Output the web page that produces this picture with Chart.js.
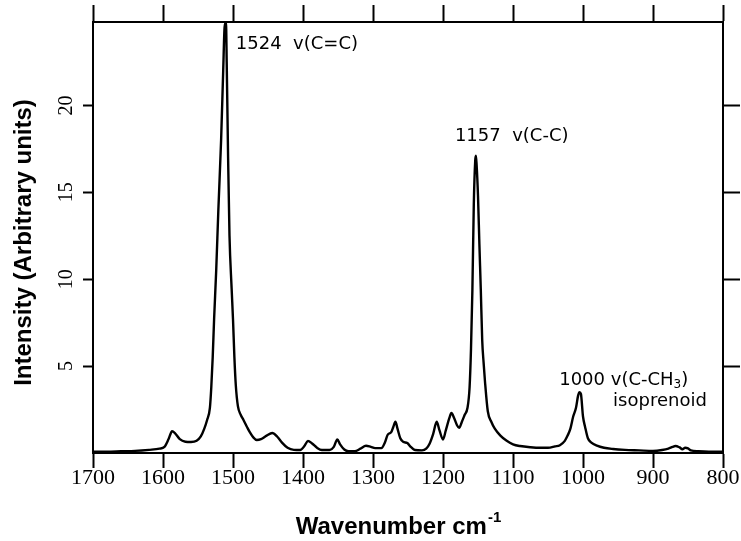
<!DOCTYPE html>
<html>
<head>
<meta charset="utf-8">
<script src="https://cdn.jsdelivr.net/npm/chart.js@4.4.1/dist/chart.umd.min.js"></script>
<style>
  html, body { margin: 0; padding: 0; background: #fff; }
  #wrap { width: 741px; height: 541px; }
</style>
</head>
<body>
<div id="wrap"><canvas id="myChart" width="741" height="541"></canvas></div>
<script>
// spectrum (wavenumber cm-1 / intensity)
const wavenumbers = [
  1700, 1680, 1660, 1640, 1620, 1605, 1598, 1592, 1587, 1583,
  1576, 1568, 1560, 1552, 1546, 1541, 1537, 1533, 1531, 1529,
  1527, 1524, 1521, 1517, 1514, 1512, 1510, 1509, 1507, 1505,
  1502, 1500, 1498, 1496, 1493, 1489, 1485, 1480, 1476, 1471,
  1466, 1460, 1452, 1444, 1437, 1430, 1422, 1413, 1404, 1398,
  1393, 1387, 1380, 1373, 1362, 1356, 1351, 1347, 1341, 1335,
  1326, 1318, 1310, 1303, 1297, 1288, 1283, 1279, 1274, 1271,
  1268, 1265, 1261, 1257, 1251, 1246, 1240, 1230, 1224, 1219,
  1214, 1209, 1205, 1200, 1196, 1191, 1188, 1184, 1180, 1177,
  1173, 1169, 1165, 1162, 1160, 1158, 1156, 1154, 1153, 1152,
  1150, 1148, 1146, 1144, 1142, 1140, 1136, 1131, 1126, 1118,
  1109, 1100, 1090, 1075, 1061, 1050, 1040, 1033, 1026, 1022,
  1018, 1014, 1010, 1007, 1005, 1003, 1000, 997, 993, 988,
  980, 970, 957, 940, 920, 900, 887, 878, 872, 868,
  862, 858, 854, 850, 846, 835, 820, 800
];
const intensities = [
  0.08, 0.08, 0.1, 0.12, 0.18, 0.25, 0.35, 0.8, 1.25, 1.15,
  0.8, 0.65, 0.63, 0.7, 0.95, 1.4, 1.9, 2.6, 3.8, 5.5,
  7.7, 10.5, 13.9, 18, 22, 24.5, 24.8, 22.5, 17, 12.5,
  9.5, 7.7, 5.5, 3.9, 2.7, 2.2, 1.9, 1.5, 1.2, 0.9,
  0.75, 0.8, 1.0, 1.15, 0.95, 0.6, 0.3, 0.18, 0.17, 0.4,
  0.7, 0.55, 0.3, 0.17, 0.17, 0.35, 0.78, 0.5, 0.2, 0.1,
  0.1, 0.25, 0.42, 0.35, 0.28, 0.28, 0.6, 1.05, 1.2, 1.5,
  1.8, 1.4, 0.85, 0.65, 0.57, 0.35, 0.17, 0.15, 0.25, 0.55,
  1.1, 1.8, 1.3, 0.78, 1.3, 2.0, 2.3, 2.0, 1.6, 1.45,
  1.8, 2.2, 2.6, 3.8, 6, 9.4, 14.3, 16.8, 17.1, 16.6,
  14.8, 12, 9.4, 6.5, 5.2, 4.1, 2.4, 1.8, 1.4, 1.0,
  0.7, 0.5, 0.4, 0.33, 0.3, 0.3, 0.38, 0.45, 0.7, 1.0,
  1.4, 2.1, 2.6, 3.3, 3.5, 3.4, 2.1, 1.5, 0.85, 0.6,
  0.42, 0.3, 0.23, 0.18, 0.15, 0.12, 0.17, 0.25, 0.35, 0.4,
  0.32, 0.22, 0.3, 0.27, 0.15, 0.1, 0.08, 0.08
];

const xTicks = [1700, 1600, 1500, 1400, 1300, 1200, 1100, 1000, 900, 800];
const yTicks = [5, 10, 15, 20];

// peak annotations: text pieces (0 = normal, 1 = subscript) and where they sit
const peakLabels = [
  { wn: 1496, y: 23.5, parts: [["1524  v(C=C)", 0]] },
  { wn: 1183, y: 18.2, parts: [["1157  v(C-C)", 0]] },
  { wn: 1034, y: 4.2, parts: [["1000 v(C-CH", 0], ["3", 1], [")", 0]] },
  { wn: 957, y: 3.0, parts: [["isoprenoid", 0]] }
];

const black = "#000";

// extra text: rotated y tick labels, axis titles, peak labels
const textPlugin = {
  id: "textPlugin",
  afterDraw(chart) {
    const c = chart.ctx;
    const xs = chart.scales.x;
    const ys = chart.scales.y;
    const area = chart.chartArea;
    c.save();
    c.fillStyle = black;

    // y tick labels, rotated
    c.font = "20px 'Liberation Serif'";
    c.textAlign = "center";
    c.textBaseline = "middle";
    yTicks.forEach((v) => {
      c.save();
      c.translate(67, ys.getPixelForValue(v));
      c.rotate(-Math.PI / 2);
      c.fillText(String(v), 0, 0);
      c.restore();
    });

    // y title
    c.save();
    c.translate(24, (area.top + area.bottom) / 2 + 5);
    c.rotate(-Math.PI / 2);
    c.font = "bold 24px 'Liberation Sans'";
    c.fillText("Intensity (Arbitrary units)", 0, 0);
    c.restore();

    // x title with superscript
    c.textAlign = "left";
    c.textBaseline = "alphabetic";
    c.font = "bold 24px 'Liberation Sans'";
    const main = "Wavenumber cm";
    const w1 = c.measureText(main).width;
    c.font = "bold 15px 'Liberation Sans'";
    const w2 = c.measureText("-1").width;
    let tx = (area.left + area.right) / 2 - 10 - (w1 + w2) / 2;
    c.font = "bold 24px 'Liberation Sans'";
    c.fillText(main, tx, 534);
    c.font = "bold 15px 'Liberation Sans'";
    c.fillText("-1", tx + w1 + 1, 522);

    // peak labels
    c.textBaseline = "middle";
    peakLabels.forEach((lab) => {
      let px = xs.getPixelForValue(lab.wn);
      const py = ys.getPixelForValue(lab.y);
      lab.parts.forEach(([t, sub]) => {
        c.font = sub ? "12px 'DejaVu Sans'" : "18px 'DejaVu Sans'";
        c.fillText(t, px, py + (sub ? 5 : 0));
        px += c.measureText(t).width;
      });
    });
    c.restore();
  }
};

const ctx = document.getElementById("myChart");

const axisGrid = (len) => ({
  display: true,
  drawOnChartArea: false,
  drawTicks: true,
  tickLength: len,
  tickWidth: 2,
  tickColor: black
});
const axisBorder = { display: true, color: black, width: 2 };

new Chart(ctx, {
  type: "line",
  data: {
    datasets: [
      {
        data: wavenumbers.map((w, i) => ({ x: w, y: intensities[i] })),
        borderColor: black,
        borderWidth: 2.4,
        pointRadius: 0,
        cubicInterpolationMode: "monotone",
        fill: false
      }
    ]
  },
  options: {
    responsive: false,
    animation: false,
    devicePixelRatio: 1,
    layout: { padding: 0 },
    plugins: {
      legend: { display: false },
      tooltip: { enabled: false }
    },
    scales: {
      x: {
        type: "linear",
        position: "bottom",
        reverse: true,
        min: 800,
        max: 1700,
        afterBuildTicks: (s) => { s.ticks = xTicks.map((v) => ({ value: v })); },
        ticks: {
          color: black,
          font: { family: "'Liberation Serif'", size: 22 },
          padding: -3,
          maxRotation: 0,
          autoSkip: false,
          callback: (v) => String(v)
        },
        grid: axisGrid(15),
        border: axisBorder,
        afterFit: (s) => { s.height = 88; }
      },
      xTop: {
        type: "linear",
        position: "top",
        reverse: true,
        min: 800,
        max: 1700,
        afterBuildTicks: (s) => { s.ticks = xTicks.map((v) => ({ value: v })); },
        ticks: { display: false },
        grid: axisGrid(17),
        border: axisBorder,
        afterFit: (s) => { s.height = 22; }
      },
      y: {
        type: "linear",
        position: "left",
        min: 0,
        max: 24.8,
        afterBuildTicks: (s) => { s.ticks = yTicks.map((v) => ({ value: v })); },
        ticks: { display: false },
        grid: axisGrid(10),
        border: axisBorder,
        afterFit: (s) => { s.width = 93; }
      },
      yRight: {
        type: "linear",
        position: "right",
        min: 0,
        max: 24.8,
        afterBuildTicks: (s) => { s.ticks = yTicks.map((v) => ({ value: v })); },
        ticks: { display: false },
        grid: axisGrid(17),
        border: axisBorder,
        afterFit: (s) => { s.width = 18; }
      }
    }
  },
  plugins: [textPlugin]
});
</script>
</body>
</html>
